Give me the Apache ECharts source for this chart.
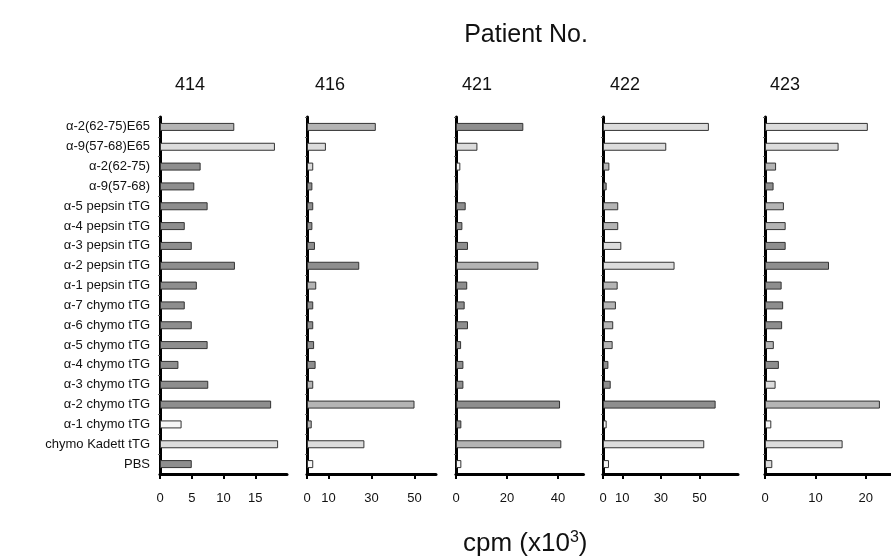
<!DOCTYPE html>
<html>
<head>
<meta charset="utf-8">
<script src="https://cdn.jsdelivr.net/npm/echarts@6/dist/echarts.min.js"></script>
<style>
  html, body { margin: 0; padding: 0; background: #fff; }
  #chart { width: 891px; height: 560px; }
</style>
</head>
<body>
<div id="chart"></div>
<script>
// peptide / antigen rows, top to bottom
const categories = [
  'α-2(62-75)E65', 'α-9(57-68)E65', 'α-2(62-75)', 'α-9(57-68)',
  'α-5 pepsin tTG', 'α-4 pepsin tTG', 'α-3 pepsin tTG', 'α-2 pepsin tTG', 'α-1 pepsin tTG',
  'α-7 chymo tTG', 'α-6 chymo tTG', 'α-5 chymo tTG', 'α-4 chymo tTG', 'α-3 chymo tTG',
  'α-2 chymo tTG', 'α-1 chymo tTG', 'chymo Kadett tTG', 'PBS'
]

const patients = ['414', '416', '421', '422', '423']

// cpm (x10^3) per patient, same order as categories
const values414 = [11.7, 18.1, 6.4, 5.4, 7.5, 3.9, 5.0, 11.8, 5.8, 3.9, 5.0, 7.5, 2.9, 7.6, 17.5, 3.4, 18.6, 5.0]
const values416 = [32, 8.8, 2.9, 2.5, 2.9, 2.5, 3.7, 24.3, 4.3, 2.9, 2.9, 3.3, 4.0, 2.9, 50, 2.2, 26.7, 2.9]
const values421 = [26.4, 8.4, 1.7, 0.9, 3.8, 2.5, 4.7, 32.3, 4.4, 3.4, 4.7, 2.0, 2.9, 2.9, 40.8, 2.1, 41.3, 2.1]
const values422 = [54.9, 32.8, 3.3, 1.9, 7.9, 7.9, 9.5, 37.1, 7.6, 6.7, 5.3, 5.0, 2.8, 4.0, 58.4, 1.9, 52.5, 3.1]
const values423 = [20.4, 14.6, 2.2, 1.7, 3.75, 4.1, 4.1, 12.7, 3.3, 3.6, 3.4, 1.75, 2.75, 2.1, 22.8, 1.25, 15.4, 1.45]

// axis ranges and labelled ticks per panel
const axisMax = [20, 60, 50, 70, 25]
const tickValues = [[0, 5, 10, 15], [0, 10, 30, 50], [0, 20, 40], [0, 10, 30, 50], [0, 10, 20]]

// bar fill shade per row: d = dark, m = mid, l = light, w = white
const shades414 = ['m','l','d','d','d','d','d','d','d','d','d','d','d','d','d','w','l','d']
const shades416 = ['m','l','l','d','d','d','d','d','m','d','d','d','d','m','m','m','l','w']
const shades421 = ['d','l','w','d','d','d','d','m','d','d','d','d','d','d','d','d','m','w']
const shades422 = ['l','l','m','d','m','m','l','l','m','m','m','m','d','d','d','w','l','w']
const shades423 = ['l','l','m','d','m','m','d','d','d','d','d','m','d','l','m','w','l','l']

const allValues = [values414, values416, values421, values422, values423]
const allShades = [shades414, shades416, shades421, shades422, shades423]

const shadeColor = { d: '#8e8e8e', m: '#b4b4b4', l: '#dcdcdc', w: '#f6f6f6' }

// panel placement (px)
const panelLeft = [160, 307, 456, 603, 765]
const panelWidth = [127, 129, 127.5, 135, 133]
const patientLabelX = [190, 330, 477, 625, 785]

const FONT = '"Liberation Sans", Arial, Helvetica, sans-serif'

const chart = echarts.init(document.getElementById('chart'))

const grids = [], xAxes = [], yAxes = [], series = []
patients.forEach((p, i) => {
  grids.push({ left: panelLeft[i], width: panelWidth[i], top: 117, height: 357, containLabel: false })
  xAxes.push({
    type: 'value',
    gridIndex: i,
    min: 0,
    max: axisMax[i],
    splitLine: { show: false },
    axisLine: { show: true, onZero: false, lineStyle: { color: '#000', width: 3 } },
    axisTick: { show: true, length: 5, customValues: tickValues[i], lineStyle: { color: '#000', width: 2 } },
    axisLabel: { customValues: tickValues[i], color: '#111', fontSize: 13, fontFamily: FONT, margin: 18 }
  })
  yAxes.push({
    type: 'category',
    gridIndex: i,
    inverse: true,
    data: categories,
    axisLine: { show: true, lineStyle: { color: '#000', width: 3 } },
    axisTick: { show: true, length: 2, lineStyle: { color: '#666', width: 1 } },
    axisLabel: {
      show: i === 0,
      color: '#111',
      fontSize: 13,
      fontFamily: FONT,
      margin: 10
    }
  })
  series.push({
    type: 'bar',
    xAxisIndex: i,
    yAxisIndex: i,
    barWidth: 8,
    silent: true,
    data: allValues[i].map((v, k) => ({
      value: v,
      itemStyle: { color: shadeColor[allShades[i][k]], borderColor: '#333', borderWidth: 1 }
    }))
  })
})

const graphics = [
  { type: 'text', x: 526, y: 35, style: { text: 'Patient No.', font: '25px ' + FONT, fill: '#111', align: 'center', verticalAlign: 'middle' } },
  { type: 'text', left: 463, top: 530, style: {
      text: '{a|cpm (x10}{s|3}{a|)}',
      rich: {
        a: { font: '26px ' + FONT, fill: '#111' },
        s: { font: '16px ' + FONT, fill: '#111', verticalAlign: 'top', padding: [0, 0, 12, 0] }
      }
    } }
]
patients.forEach((p, i) => {
  graphics.push({
    type: 'text', x: patientLabelX[i], y: 85,
    style: { text: p, font: '18px ' + FONT, fill: '#111', align: 'center', verticalAlign: 'middle' }
  })
})

chart.setOption({
  animation: false,
  backgroundColor: '#fff',
  grid: grids,
  xAxis: xAxes,
  yAxis: yAxes,
  series: series,
  graphic: graphics
})
</script>
</body>
</html>
